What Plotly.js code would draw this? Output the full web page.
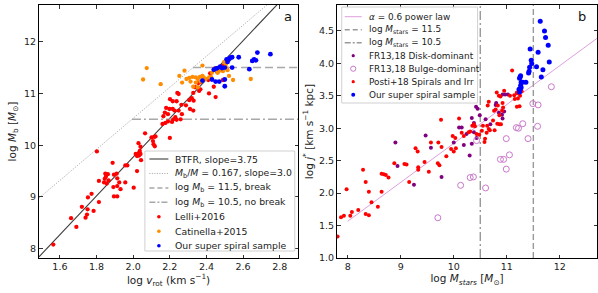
<!DOCTYPE html>
<html><head><meta charset="utf-8">
<script src="https://cdn.plot.ly/plotly-3.0.1.min.js"></script>
<style>html,body{margin:0;padding:0;background:#fff}#chart{width:598px;height:293px}</style>
</head><body><div id="chart"></div>
<script>
// ---------- Panel a data ----------
const lelliV = [1.564,1.69,1.661,1.74,1.748,1.751,1.72,1.784,1.813,1.753,1.773,1.802,1.813,1.841,1.845,1.848,1.851,1.856,1.862,1.866,
 1.892,1.895,1.913,1.913,1.924,1.931,1.888,1.895,1.91,1.913,1.957,1.968,1.957,2.003,2.021,2.014,2.021,2.029,2.032,2.04,
 2.036,2.029,2.04,2.065,2.043,2.10,2.108,2.115,2.122,2.111,2.118,2.20,2.16,2.176,2.19,2.212,2.219,2.23,2.237,2.259,
 2.266,2.248,2.226,2.216,2.198,2.18,2.19,2.173,2.165,2.201,2.216,2.237,2.241,2.248,2.263,2.288,2.31,2.328,2.306,2.32,
 2.328,2.33,2.338,2.356,2.367,2.36,2.367,2.41,2.414,2.42,2.44,2.44,2.45,2.46,2.49,2.49];
const lelliM = [8.08,8.42,8.59,8.60,8.66,8.76,8.81,8.73,8.90,8.99,9.06,9.88,9.31,9.28,9.35,9.45,9.39,9.26,9.44,9.32,
 9.19,9.01,9.01,9.21,9.28,9.15,9.66,9.43,9.45,9.36,9.61,9.61,9.28,9.18,9.50,9.83,9.79,9.84,9.80,9.83,
 9.89,10.04,9.97,10.23,9.71,10.15,10.08,10.16,10.17,10.02,9.98,10.14,10.41,10.43,10.46,10.45,10.50,10.54,10.49,10.50,
 10.60,10.67,10.67,10.70,10.70,10.72,10.60,10.63,10.56,10.89,10.85,10.85,11.01,10.99,10.78,10.77,10.70,10.67,10.87,10.91,
 11.01,10.86,11.12,11.20,11.08,11.05,11.22,11.26,11.00,11.39,11.46,11.13,10.93,11.41,11.54,11.26];
const catV = [2.054,2.074,2.15,2.252,2.28,2.267,2.378,2.291,2.306,2.324,2.342,2.353,2.364,2.378,2.385,2.396,2.414,2.425,2.367,2.342,
 2.328,2.353,2.447,2.454,2.461,2.472,2.479,2.49,2.497,2.505,2.512,2.515,2.523,2.545,2.642,2.313,2.38,2.43];
const catM = [11.27,11.49,11.18,11.34,11.44,11.21,11.54,11.28,11.30,11.32,11.31,11.28,11.32,11.34,11.31,11.28,11.31,11.32,11.23,11.21,
 11.13,11.12,11.49,11.45,11.40,11.44,11.47,11.43,11.61,11.56,11.49,11.45,11.34,11.26,11.28,11.23,11.26,11.40];
const oursAV = [2.378,2.43,2.45,2.47,2.50,2.50,2.44,2.45,2.46,2.475,2.485,2.50,2.52,2.53,2.54,2.576,2.634,2.65,2.66,2.67,2.678,2.749,2.51,2.515,2.525,2.54];
const oursAM = [11.25,11.27,11.23,11.23,11.14,11.27,11.46,11.48,11.49,11.52,11.49,11.50,11.65,11.69,11.70,11.70,11.47,11.63,11.66,11.64,11.79,11.76,11.66,11.61,11.67,11.50];
const aXTicks = [1.6,1.8,2.0,2.2,2.4,2.6,2.8];
const aYTicks = [8,9,10,11,12];
// model lines (slope, intercept)
const btfrSlope = 3.75, btfrIcpt = 2.27;
const haloSlope = 3.0, haloIcpt = 4.52;
const breakHi = 11.5, breakLo = 10.5;

// ---------- Panel b data ----------
const diskM = [8.90,8.94,9.25,9.47,9.57,9.77,10.0,10.10,10.15,10.19,10.24,10.30,10.34,10.34,10.38,10.42,10.45,10.49,10.60,10.69,
 10.79,10.85,10.91,10.95,10.92,10.97,11.02,10.43,10.38,10.80,10.92];
const diskJ = [2.78,2.42,2.13,2.89,2.70,2.25,2.78,3.01,3.01,2.74,2.91,2.58,2.76,3.16,2.94,3.33,3.30,3.20,3.14,3.06,
 3.36,3.24,3.21,3.26,3.52,3.52,3.52,2.85,3.08,3.39,3.15];
const bulgeM = [9.70,10.13,10.31,10.37,10.60,10.43,10.88,10.94,10.99,11.05,10.99,11.18,11.22,11.30,11.40,11.58,11.49,11.59,11.84];
const bulgeJ = [1.62,2.12,2.24,2.25,2.08,2.81,2.52,2.52,2.37,2.59,2.84,3.01,3.00,3.07,2.84,3.03,3.38,3.36,3.64];
const postiM = [7.81,7.875,7.93,7.98,8.05,8.08,8.20,8.29,8.34,8.34,8.40,8.40,8.45,8.57,8.64,8.64,8.68,8.72,8.77,8.88,
 9.07,9.11,9.16,9.28,9.32,9.33,9.33,9.45,9.53,9.57,9.70,9.71,9.73,9.76,9.77,9.86,9.95,9.98,10.0,10.03,
 10.04,10.10,10.15,10.19,10.28,10.31,10.35,10.38,10.40,10.43,10.48,10.53,10.55,10.58,10.59,10.62,10.63,10.66,10.68,10.74,
 10.77,10.79,10.82,10.86,10.89,10.76,10.83,10.91,10.93,10.64,11.10,10.95,10.81,10.85,10.88,10.66,10.92,11.06,11.14,11.20,
 11.21,11.25,11.15,11.19,11.24,11.19,11.28,10.86];
const postiJ = [1.33,1.63,1.65,2.06,1.65,1.71,1.74,2.36,2.17,1.68,1.66,2.02,1.86,1.79,2.02,2.30,2.29,2.28,2.24,2.46,
 2.45,2.44,2.17,2.69,2.64,2.40,2.36,2.48,2.33,2.78,2.46,2.78,2.43,3.13,2.71,2.57,2.68,2.88,2.64,2.85,
 2.69,3.15,2.93,2.88,2.94,2.95,3.04,3.06,3.03,2.91,2.90,2.96,3.04,2.79,2.84,2.93,3.04,2.99,2.97,3.12,
 2.97,3.29,3.07,3.06,3.06,3.27,3.35,3.27,3.32,3.35,3.89,3.58,3.55,3.50,3.49,3.41,3.39,3.50,3.51,3.54,
 3.46,3.50,3.45,3.33,3.34,3.55,3.57,3.20];
const oursBM = [11.63,11.71,11.73,11.78,11.44,11.59,11.80,11.46,11.47,11.43,11.42,11.41,11.56,11.68,11.65,11.26,11.25,11.24,11.27,11.30,
 11.36,11.26,11.27,11.25,11.23,11.24];
const oursBJ = [4.65,4.50,4.40,4.28,4.22,4.17,4.02,4.05,4.00,3.94,3.88,3.85,3.95,3.90,3.79,3.81,3.79,3.77,3.71,3.71,
 3.71,3.66,3.63,3.60,3.60,3.56];
const bXTicks = [8,9,10,11,12];
const bYTicks = [1.0,1.5,2.0,2.5,3.0,3.5,4.0,4.5];
const powAlpha = 0.6, powPivotM = 10.5, powPivotJ = 3.066, powStart = 8.0;
const mstarHi = 11.5, mstarLo = 10.5;

// ---------- ranges ----------
const aXR = [1.486, 2.9], aYR = [7.82, 12.71];
const bXR = [7.8, 12.7], bYR = [1.0, 4.9];

const FONT = 'DejaVu Sans';
const W = 598, H = 293, ML = 39, MR = 0.5, MT = 5, MB = 35;
const pw = W - ML - MR, ph = H - MT - MB;
const PX = p => (p - ML) / pw;
const PY = p => (H - MB - p) / ph;

const traces = [];
// panel a lines
traces.push({x: aXR, y: aXR.map(v => btfrSlope * v + btfrIcpt), mode: 'lines', line: {color: '#3c3c3c', width: 1.1}, xaxis: 'x', yaxis: 'y', hoverinfo: 'skip'});
traces.push({x: aXR, y: aXR.map(v => haloSlope * v + haloIcpt), mode: 'lines', line: {color: '#8a8a8a', width: 0.8, dash: '1px,1.5px'}, xaxis: 'x', yaxis: 'y', hoverinfo: 'skip'});
traces.push({x: [(breakHi - haloIcpt) / haloSlope, aXR[1]], y: [breakHi, breakHi], mode: 'lines', line: {color: '#a8a8a8', width: 1.5, dash: '8px,4px'}, xaxis: 'x', yaxis: 'y', hoverinfo: 'skip'});
traces.push({x: [(breakLo - haloIcpt) / haloSlope, aXR[1]], y: [breakLo, breakLo], mode: 'lines', line: {color: '#a8a8a8', width: 1.5, dash: '9px,3px,2px,3px'}, xaxis: 'x', yaxis: 'y', hoverinfo: 'skip'});
// panel a points
traces.push({x: lelliV, y: lelliM, mode: 'markers', marker: {color: '#ff0000', size: 4.3}, xaxis: 'x', yaxis: 'y'});
traces.push({x: catV, y: catM, mode: 'markers', marker: {color: '#ff8c00', size: 4.3}, xaxis: 'x', yaxis: 'y'});
traces.push({x: oursAV, y: oursAM, mode: 'markers', marker: {color: '#0000ff', size: 4.8}, xaxis: 'x', yaxis: 'y'});

// panel b lines
traces.push({x: [powStart, bXR[1]], y: [powStart, bXR[1]].map(m => powPivotJ + powAlpha * (m - powPivotM)), mode: 'lines', line: {color: '#dda0dd', width: 1}, xaxis: 'x2', yaxis: 'y2', hoverinfo: 'skip'});
traces.push({x: [mstarHi, mstarHi], y: bYR, mode: 'lines', line: {color: '#999999', width: 1.4, dash: '6px,3px'}, xaxis: 'x2', yaxis: 'y2', hoverinfo: 'skip'});
traces.push({x: [mstarLo, mstarLo], y: bYR, mode: 'lines', line: {color: '#999999', width: 1.4, dash: '9px,3px,2px,3px'}, xaxis: 'x2', yaxis: 'y2', hoverinfo: 'skip'});
// panel b points
traces.push({x: diskM, y: diskJ, mode: 'markers', marker: {color: '#800080', size: 4}, xaxis: 'x2', yaxis: 'y2'});
traces.push({x: bulgeM, y: bulgeJ, mode: 'markers', marker: {color: '#c878c8', size: 6, symbol: 'circle-open', line: {color: '#c878c8', width: 1}}, xaxis: 'x2', yaxis: 'y2'});
traces.push({x: postiM, y: postiJ, mode: 'markers', marker: {color: '#ff0000', size: 4}, xaxis: 'x2', yaxis: 'y2'});
traces.push({x: oursBM, y: oursBJ, mode: 'markers', marker: {color: '#0000ff', size: 5}, xaxis: 'x2', yaxis: 'y2'});

// ---------- manual legends ----------
const shapes = [], annotations = [];
function legend(box, rows, textX, handleX0, handleX1, markX, fsize) {
  shapes.push({type: 'rect', xref: 'paper', yref: 'paper', x0: PX(box[0]), x1: PX(box[1]), y0: PY(box[3]), y1: PY(box[2]),
    fillcolor: 'rgba(255,255,255,0.9)', line: {color: '#d0d0d0', width: 1}, layer: 'above'});
  rows.forEach(r => {
    if (r.kind === 'line') {
      shapes.push({type: 'line', xref: 'paper', yref: 'paper', x0: PX(handleX0), x1: PX(handleX1), y0: PY(r.y), y1: PY(r.y),
        line: {color: r.color, width: r.width, dash: r.dash || 'solid'}, layer: 'above'});
    } else {
      const rr = r.r;
      shapes.push({type: 'circle', xref: 'paper', yref: 'paper', x0: PX(markX - rr), x1: PX(markX + rr), y0: PY(r.y + rr), y1: PY(r.y - rr),
        fillcolor: r.open ? 'rgba(0,0,0,0)' : r.color, line: {color: r.color, width: r.open ? 1 : 0}, layer: 'above'});
    }
    annotations.push({xref: 'paper', yref: 'paper', x: PX(textX), y: PY(r.y), xanchor: 'left', yanchor: 'middle', showarrow: false,
      text: r.text, font: {family: FONT, size: fsize, color: '#222'}, borderpad: 0});
  });
}
const ay = i => 159 + 14.45 * i;
legend([145, 295, 151, 251], [
  {kind: 'line', y: ay(0), color: '#3c3c3c', width: 1.1, text: 'BTFR, slope=3.75'},
  {kind: 'line', y: ay(1), color: '#8a8a8a', width: 0.8, dash: '1px,1.5px', text: '<i>M</i><sub>b</sub>/<i>M</i> = 0.167, slope=3.0'},
  {kind: 'line', y: ay(2), color: '#a8a8a8', width: 1.5, dash: '5px,3px', text: 'log <i>M</i><sub>b</sub> = 11.5, break'},
  {kind: 'line', y: ay(3), color: '#a8a8a8', width: 1.5, dash: '6px,2px,2px,2px', text: 'log <i>M</i><sub>b</sub> = 10.5, no break'},
  {kind: 'mark', y: ay(4), color: '#ff0000', r: 1.8, text: 'Lelli+2016'},
  {kind: 'mark', y: ay(5), color: '#ff8c00', r: 1.8, text: 'Catinella+2015'},
  {kind: 'mark', y: ay(6), color: '#0000ff', r: 1.8, text: 'Our super spiral sample'}
], 174.5, 149.5, 168.5, 159, 9.3);
const by = i => 16.7 + 13 * i;
legend([342, 478, 7, 103], [
  {kind: 'line', y: by(0), color: '#dda0dd', width: 1, text: '<i>α</i> = 0.6 power law'},
  {kind: 'line', y: by(1), color: '#999999', width: 1.4, dash: '5px,3px', text: 'log <i>M</i><sub>stars</sub> = 11.5'},
  {kind: 'line', y: by(2), color: '#999999', width: 1.4, dash: '6px,2px,2px,2px', text: 'log <i>M</i><sub>stars</sub> = 10.5'},
  {kind: 'mark', y: by(3), color: '#800080', r: 1.6, text: 'FR13,18 Disk-dominant'},
  {kind: 'mark', y: by(4), color: '#c878c8', r: 2.6, open: true, text: 'FR13,18 Bulge-dominant'},
  {kind: 'mark', y: by(5), color: '#ff0000', r: 1.6, text: 'Posti+18 Spirals and Irr'},
  {kind: 'mark', y: by(6), color: '#0000ff', r: 2, text: 'Our super spiral sample'}
], 368.5, 345, 362, 353.5, 8.9);

annotations.push({xref: 'paper', yref: 'paper', x: PX(288.5), y: PY(17), text: 'a', showarrow: false, xanchor: 'center', yanchor: 'middle', font: {family: FONT, size: 13, color: '#111'}});
annotations.push({xref: 'paper', yref: 'paper', x: PX(582.5), y: PY(16.5), text: 'b', showarrow: false, xanchor: 'center', yanchor: 'middle', font: {family: FONT, size: 13, color: '#111'}});

const axBase = {showgrid: false, zeroline: false, showline: true, linecolor: '#000', linewidth: 1, mirror: 'ticks',
  ticks: 'inside', ticklen: 3.5, tickwidth: 0.8, tickcolor: '#000', tickfont: {family: FONT, size: 9.5, color: '#222'}};
const TF = {family: FONT, size: 10.5, color: '#222'};

const layout = {
  width: W, height: H, margin: {l: ML, r: MR, t: MT, b: MB}, paper_bgcolor: '#fff', plot_bgcolor: '#fff', showlegend: false,
  font: {family: FONT},
  xaxis: Object.assign({}, axBase, {domain: [0, (298.3 - ML) / pw], range: aXR, tickvals: aXTicks, ticktext: aXTicks.map(v => v.toFixed(1)),
    title: {text: 'log <i>v</i><sub>rot</sub> (km s<sup>−1</sup>)', font: TF, standoff: 1}}),
  yaxis: Object.assign({}, axBase, {domain: [0, 1], range: aYR, tickvals: aYTicks, ticktext: aYTicks.map(String),
    title: {text: 'log <i>M</i><sub>b</sub> [<i>M</i><sub>⊙</sub>]', font: TF, standoff: 5}}),
  xaxis2: Object.assign({}, axBase, {domain: [(337.3 - ML) / pw, 1], range: bXR, anchor: 'y2', tickvals: bXTicks, ticktext: bXTicks.map(String),
    title: {text: 'log <i>M</i><sub><i>stars</i></sub> [<i>M</i><sub>⊙</sub>]', font: TF, standoff: 1}}),
  yaxis2: Object.assign({}, axBase, {domain: [0, 1], range: bYR, anchor: 'x2', tickvals: bYTicks, ticktext: bYTicks.map(v => v.toFixed(1)),
    title: {text: 'log <i>j</i><sup>*</sup> [km s<sup>−1</sup> kpc]', font: TF, standoff: 3}}),
  shapes: shapes, annotations: annotations
};
traces.forEach(t => { t.showlegend = false; t.cliponaxis = true; });
Plotly.newPlot('chart', traces, layout, {staticPlot: true, displayModeBar: false});
</script></body></html>
